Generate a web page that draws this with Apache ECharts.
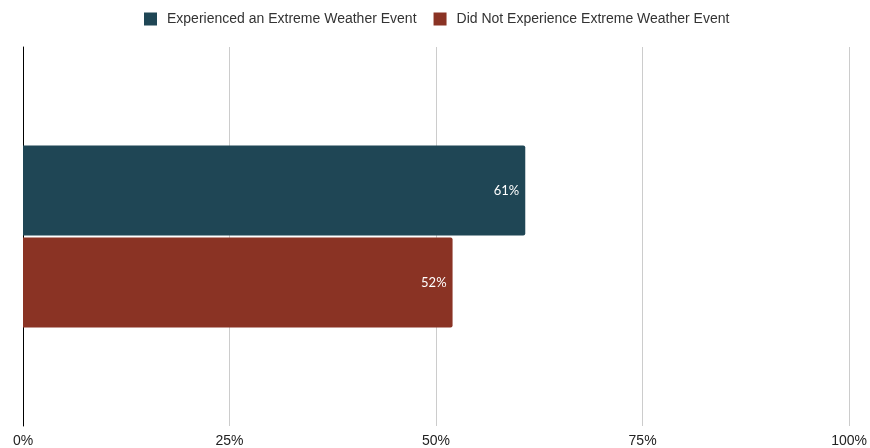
<!DOCTYPE html>
<html>
<head>
<meta charset="utf-8">
<script src="https://cdn.jsdelivr.net/npm/echarts@6/dist/echarts.min.js"></script>
<style>html,body{margin:0;padding:0;background:#fff;overflow:hidden}#c{width:870px;height:448px}</style>
</head>
<body>
<div id="c"></div>
<script>
const categories = [''];
const seriesNames = ['Experienced an Extreme Weather Event', 'Did Not Experience Extreme Weather Event'];
const experienced = [60.8];
const notExperienced = [52];
const tickValues = [0, 25, 50, 75, 100];
const colors = ['#1f4655', '#8a3324'];

const chart = echarts.init(document.getElementById('c'), null, {renderer: 'canvas'});
const mkLabel = {
  show: true, position: 'insideRight', distance: 6,
  color: '#ffffff', fontSize: 13, fontFamily: 'Lato, Roboto, sans-serif',
  formatter: p => Math.round(p.value) + '%'
};
chart.setOption({
  animation: false,
  textStyle: {fontFamily: '"Liberation Sans", Arial, sans-serif'},
  legend: {
    top: 7, left: 139, itemWidth: 13, itemHeight: 13, itemGap: 17,
    icon: 'rect',
    textStyle: {fontSize: 14, color: '#333', padding: [0, 0, 0, 5]},
    data: seriesNames
  },
  grid: {left: 23, right: 18, top: 47, bottom: 22, containLabel: false},
  xAxis: {
    type: 'value', min: 0, max: 100, interval: 25,
    axisLine: {show: false}, axisTick: {show: false},
    splitLine: {show: true, lineStyle: {color: '#cccccc', width: 1}},
    axisLabel: {formatter: v => v + '%', fontSize: 14, color: '#222', margin: 8,
      align: 'center'}
  },
  yAxis: {
    type: 'category', data: categories, inverse: true,
    axisLine: {show: true, lineStyle: {color: '#000', width: 1}},
    axisTick: {show: false}, axisLabel: {show: false}
  },
  series: [
    {name: seriesNames[0], type: 'bar', data: experienced, barWidth: 90, barGap: '2.2%',
     itemStyle: {color: colors[0], borderRadius: [0, 2, 2, 0]}, label: mkLabel},
    {name: seriesNames[1], type: 'bar', data: notExperienced, barWidth: 90, barGap: '2.2%',
     itemStyle: {color: colors[1], borderRadius: [0, 2, 2, 0]}, label: mkLabel}
  ]
});
</script>
</body>
</html>
